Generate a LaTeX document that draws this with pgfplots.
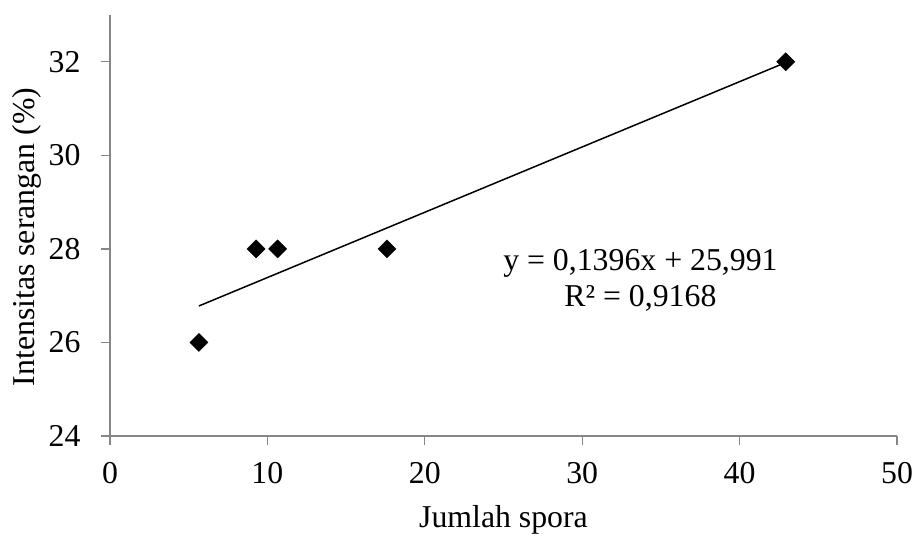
\documentclass[border=0pt]{standalone}
\usepackage{fontspec}
\setmainfont{Liberation Serif}
\usepackage{pgfplots}
\pgfplotsset{compat=1.18}
\definecolor{axgray}{RGB}{134,134,134}

\begin{document}
\begin{tikzpicture}[font=\fontsize{31.8}{38}\selectfont]
\path[use as bounding box] (-110pt,-100pt) rectangle (806pt,421pt+15pt);
\begin{axis}[
  scale only axis,
  width=787pt, height=421pt,
  xmin=0, xmax=50, ymin=24, ymax=33,
  xtick={0,10,...,50}, ytick={24,26,...,32},
  axis x line*=bottom, axis y line*=left,
  axis line style={axgray, line width=1.4pt},
  tick style={axgray, line width=1.4pt},
  tick align=outside, major tick length=9pt,
  /pgf/number format/assume math mode=true,
  xticklabel style={yshift=-14pt},
  yticklabel style={xshift=-17pt},
  xlabel={Jumlah spora},
  ylabel={Intensitas serangan (\%)},
  every axis x label/.style={at={(axis description cs:0.5,0)}, anchor=base, yshift=-91pt},
  every axis y label/.style={at={(axis description cs:0,0.4726)}, rotate=90, anchor=center, yshift=83pt},
  clip=false,
]
% trendline y = 0.1396x + 25.991 over the data range
\addplot[black, line width=1.5pt, no marks] coordinates {(5.65,26.780) (42.93,31.984)};
\addplot[only marks, mark=square*, mark size=6.4pt, mark options={rotate=45, fill=black, draw=black}]
  coordinates {(5.65,26) (9.28,28) (10.65,28) (17.6,28) (42.93,32)};
\node[align=center, inner sep=0pt] at (axis cs:33.7,27.33) {y = 0,1396x + 25,991\\[-2pt]R² = 0,9168};
\end{axis}
\end{tikzpicture}
\end{document}
